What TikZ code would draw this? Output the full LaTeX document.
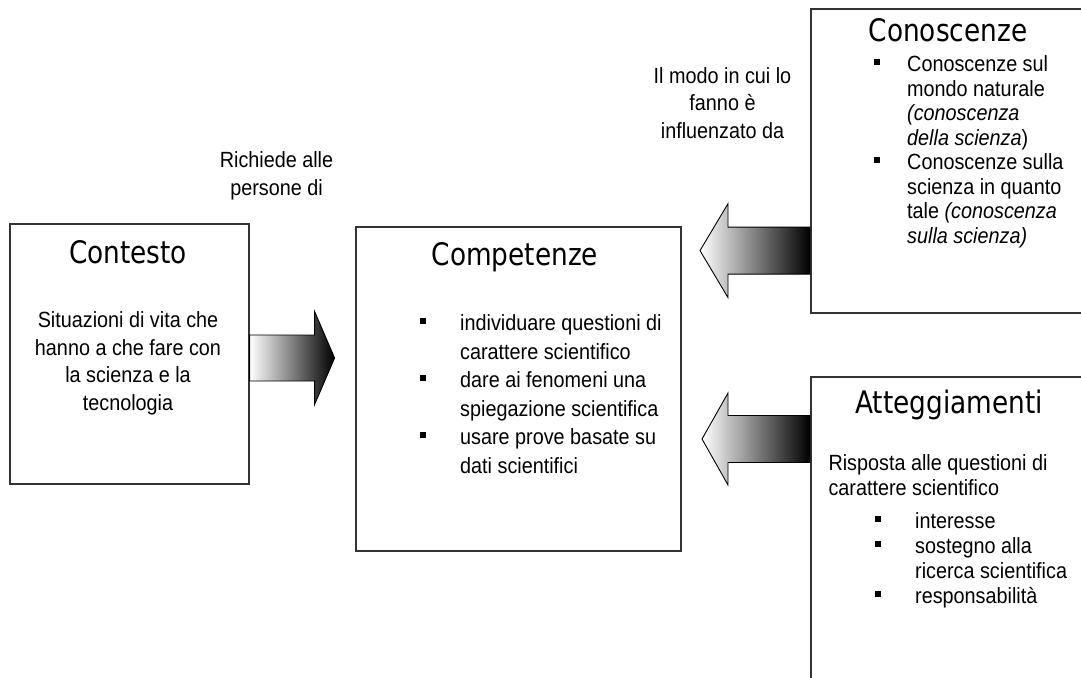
\documentclass[tikz,border=0pt]{standalone}
\usepackage{fontspec}
\setmainfont{Liberation Sans}[FakeStretch=0.9]
\newfontfamily\titlefont{DejaVu Sans}[FakeStretch=0.85]
\usetikzlibrary{calc}

\newcommand{\sqbul}{\rule[0.3em]{6pt}{6pt}}

\begin{document}
\begin{tikzpicture}[
  x=1pt, y=-1pt,
  box/.style={rectangle, draw=black!80, line width=1.6pt, inner sep=0pt, anchor=north west},
  title/.style={font=\titlefont\fontsize{31}{36}\selectfont, anchor=base, inner sep=0pt},
  body/.style={font=\fontsize{22}{27.7}\selectfont, align=center, anchor=base, inner sep=0pt},
  list/.style={inner sep=0pt, anchor=base west},
  barrow/.style={draw=black, line width=0.9pt, line join=miter}
]
\useasboundingbox (0,0) rectangle (1081,677);
\clip (0,0) rectangle (1081,677);

% boxes
\node[box, minimum width=239pt, minimum height=260pt] (contesto) at (9,223) {};
\node[box, minimum width=325pt, minimum height=324pt] (competenze) at (355,226) {};
\node[box, minimum width=276pt, minimum height=304pt] (conoscenze) at (810,8) {};
\node[box, minimum width=276pt, minimum height=330pt] (atteggiamenti) at (810,376) {};

% titles
\node[title] (t-contesto) at (128,263.3) {Contesto};
\node[title] (t-competenze) at (515,265) {Competenze};
\node[title] (t-conoscenze) at (948,42) {Conoscenze};
\node[title] (t-atteggiamenti) at (949,413.3) {Atteggiamenti};

% contesto (base = last line)
\node[body] (b-contesto) at (128,410.4) {Situazioni di vita che\\hanno a che fare con\\la scienza e la\\tecnologia};

% competenze
\node[list, font=\fontsize{22}{28.5}\selectfont] (b-competenze) at (420,330.7) {%
\begin{tabular}[t]{@{}p{40pt}@{}l@{}}
\sqbul & individuare questioni di\\
 & carattere scientifico\\
\sqbul & dare ai fenomeni una\\
 & spiegazione scientifica\\
\sqbul & usare prove basate su\\
 & dati scientifici
\end{tabular}};

% conoscenze
\node[list, font=\fontsize{22}{24.5}\selectfont] (b-conoscenze) at (874,71.7) {%
\begin{tabular}[t]{@{}p{33pt}@{}l@{}}
\sqbul & Conoscenze sul\\
 & mondo naturale\\
 & \textit{(conoscenza}\\
 & \textit{della scienza})\\
\sqbul & Conoscenze sulla\\
 & scienza in quanto\\
 & tale \textit{(conoscenza}\\
 & \textit{sulla scienza)}
\end{tabular}};

% atteggiamenti
\node[list, font=\fontsize{22}{25}\selectfont, align=left] (i-atteggiamenti) at (828.3,495.7) {Risposta alle questioni di\\carattere scientifico};
\node[list, font=\fontsize{22}{25}\selectfont] (b-atteggiamenti) at (875,528.3) {%
\begin{tabular}[t]{@{}p{40pt}@{}l@{}}
\sqbul & interesse\\
\sqbul & sostegno alla\\
 & ricerca scientifica\\
\sqbul & responsabilità
\end{tabular}};

% arrow labels
\node[body, font=\fontsize{22}{27.5}\selectfont] (l-richiede) at (276.5,195) {Richiede alle\\persone di};
\node[body, font=\fontsize{22}{27.5}\selectfont] (l-modo) at (722.5,138.3) {Il modo in cui lo\\fanno è\\influenzato da};

% block arrows
\path[barrow, left color=white, right color=black]
  ($(contesto.north east)+(0,112)$) -- ++(65,0) -- ++(0,-23.5) -- ++(20,46.5)
  -- ++(-20,46.5) -- ++(0,-23.5) -- ++(-65,0) -- cycle;
\path[barrow, left color=white, right color=black]
  ($(conoscenze.south west)+(0,-39.5)$) -- ++(-82,0) -- ++(0,23.5) -- ++(-28,-47)
  -- ++(28,-47) -- ++(0,23.5) -- ++(82,0) -- cycle;
\path[barrow, left color=white, right color=black]
  ($(atteggiamenti.north west)+(0,86.5)$) -- ++(-82,0) -- ++(0,22.5) -- ++(-26,-46)
  -- ++(26,-46) -- ++(0,22.5) -- ++(82,0) -- cycle;

\end{tikzpicture}
\end{document}
